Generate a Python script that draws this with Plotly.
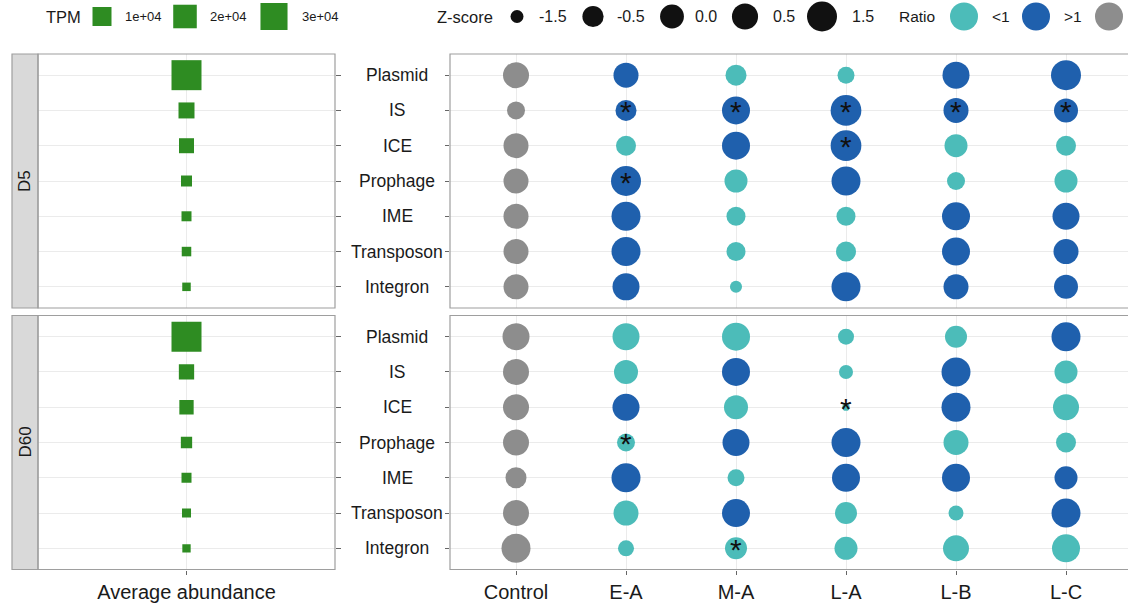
import numpy as np
import plotly.graph_objects as go

# ---------------------------------------------------------------- data
elements = ["Plasmid", "IS", "ICE", "Prophage", "IME", "Transposon", "Integron"]
groups = ["Control", "E-A", "M-A", "L-A", "L-B", "L-C"]
periods = ["D5", "D60"]
abundance_label = "Average abundance"

# average abundance (TPM) of each element type
tpm_d5 = [40000, 5300, 4050, 740, 330, 190, 20]
tpm_d60 = [40000, 4400, 3300, 900, 330, 85, 10]

# Z-scores: one row per group, columns follow `elements`
z_d5 = [
    [0.47, -0.99, 0.25, 0.25, 0.25, 0.25, 0.25],
    [0.25, -0.53, -0.70, 1.50, 1.22, 1.22, 0.71],
    [-0.53, 0.96, 0.96, -0.17, -0.85, -0.85, -1.56],
    [-1.12, 1.70, 1.70, 1.22, -0.85, -0.70, 1.22],
    [0.71, 0.25, -0.17, -0.99, 0.96, 0.96, 0.25],
    [1.50, 0.03, -0.70, -0.17, 0.71, 0.25, 0.03],
]
z_d60 = [
    [0.71, 0.47, 0.47, 0.47, -0.53, 0.47, 1.22],
    [0.71, 0.03, 0.71, -0.99, 1.22, 0.25, -1.23],
    [0.96, 0.96, 0.03, 0.71, -1.12, 0.96, -0.36],
    [-1.23, -1.42, -1.70, 1.22, 0.96, -0.36, -0.17],
    [-0.36, 1.22, 1.22, 0.25, 0.96, -1.33, 0.47],
    [1.22, -0.17, 0.47, -0.70, -0.17, 1.22, 0.96],
]

# abundance ratio relative to Control
ratio_d5 = [
    ["=1"] * 7,
    [">1", ">1", "<1", ">1", ">1", ">1", ">1"],
    ["<1", ">1", ">1", "<1", "<1", "<1", "<1"],
    ["<1", ">1", ">1", ">1", "<1", "<1", ">1"],
    [">1", ">1", "<1", "<1", ">1", ">1", ">1"],
    [">1", ">1", "<1", "<1", ">1", ">1", ">1"],
]
ratio_d60 = [
    ["=1"] * 7,
    ["<1", "<1", ">1", "<1", ">1", "<1", "<1"],
    ["<1", ">1", "<1", ">1", "<1", ">1", "<1"],
    ["<1", "<1", "<1", ">1", ">1", "<1", "<1"],
    ["<1", ">1", ">1", "<1", ">1", "<1", "<1"],
    [">1", "<1", "<1", "<1", ">1", ">1", "<1"],
]

# significance flags (1 = marked with an asterisk)
sig_d5 = [
    [0, 0, 0, 0, 0, 0, 0],
    [0, 1, 0, 1, 0, 0, 0],
    [0, 1, 0, 0, 0, 0, 0],
    [0, 1, 1, 0, 0, 0, 0],
    [0, 1, 0, 0, 0, 0, 0],
    [0, 1, 0, 0, 0, 0, 0],
]
sig_d60 = [
    [0, 0, 0, 0, 0, 0, 0],
    [0, 0, 0, 1, 0, 0, 0],
    [0, 0, 0, 0, 0, 0, 1],
    [0, 0, 1, 0, 0, 0, 0],
    [0, 0, 0, 0, 0, 0, 0],
    [0, 0, 0, 0, 0, 0, 0],
]

tpm_legend = [1e4, 2e4, 3e4]
tpm_legend_text = ["1e+04", "2e+04", "3e+04"]
z_legend = [-1.5, -0.5, 0.0, 0.5, 1.5]
z_legend_text = ["-1.5", "-0.5", "0.0", "0.5", "1.5"]
ratio_levels = ["<1", ">1", "=1"]
ratio_legend_text = ["<1", ">1", ""]

# ---------------------------------------------------------------- style
ratio_colors = {"<1": "#4CBCB9", ">1": "#1F60AD", "=1": "#8D8D8D"}
green = "#2E8C22"
text_col = "#1A1A1A"
border_col = "#9E9E9E"
grid_col = "#EBEBEB"
FONT = "Liberation Sans, Arial, Helvetica, sans-serif"

W, H = 1128, 604


def fx(px):
    return px / W


def fy(py):
    return 1 - py / H


def dot_px(z):
    z = np.clip(np.asarray(z, dtype=float), -1.7, 1.7)
    return 7.3 + 23.4 * np.sqrt((z + 1.7) / 3.4)


def square_px(tpm):
    return 8 + 0.11 * np.sqrt(np.asarray(tpm, dtype=float))


# panel geometry (pixels)
left_x = (38, 335)
right_x0 = 450
col_w = 110.0
rows = {"D5": (54, 308), "D60": (315.5, 569.5)}
strip_x = (12, 38)
label_cx = 397

fig = go.Figure()

panels = [
    ("D5", "x", "y", "x2", "y2", tpm_d5, z_d5, ratio_d5, sig_d5),
    ("D60", "x3", "y3", "x4", "y4", tpm_d60, z_d60, ratio_d60, sig_d60),
]

annotations = []
shapes = []

for name, xl, yl, xr, yr, tpm, zs, ratios, sigs in panels:
    # abundance squares
    fig.add_trace(go.Scatter(
        x=[abundance_label] * len(elements), y=elements, xaxis=xl, yaxis=yl,
        mode="markers",
        marker=dict(symbol="square", size=square_px(tpm), color=green,
                    opacity=1, line=dict(width=0)),
        showlegend=False, hoverinfo="skip",
    ))
    # Z-score / ratio dots
    xs, ys, sz, cs = [], [], [], []
    for gi, g in enumerate(groups):
        for ei, e in enumerate(elements):
            xs.append(g)
            ys.append(e)
            sz.append(float(dot_px(zs[gi][ei])))
            cs.append(ratio_colors[ratios[gi][ei]])
    fig.add_trace(go.Scatter(
        x=xs, y=ys, xaxis=xr, yaxis=yr, mode="markers",
        marker=dict(size=sz, color=cs, opacity=1, line=dict(width=0)),
        showlegend=False, hoverinfo="skip",
    ))
    # asterisks
    for gi, g in enumerate(groups):
        for ei, e in enumerate(elements):
            if sigs[gi][ei]:
                annotations.append(dict(
                    x=g, y=e, xref=xr, yref=yr, text="*", showarrow=False,
                    font=dict(family=FONT, size=30, color="#111111"),
                    xanchor="center", yanchor="middle", yshift=-1,
                ))
    # element labels between the two panels
    for e in elements:
        annotations.append(dict(
            x=fx(label_cx), y=e, xref="paper", yref=yr, text=e,
            showarrow=False, xanchor="center", yanchor="middle",
            font=dict(family=FONT, size=17.5, color=text_col),
        ))
    top, bot = rows[name]
    # facet strip
    shapes.append(dict(type="rect", xref="paper", yref="paper",
                       x0=fx(strip_x[0]), x1=fx(strip_x[1]), y0=fy(bot), y1=fy(top),
                       fillcolor="#D9D9D9", line=dict(color=border_col, width=1.2),
                       layer="above"))
    annotations.append(dict(
        x=fx((strip_x[0] + strip_x[1]) / 2), y=fy((top + bot) / 2),
        xref="paper", yref="paper", text=name, textangle=-90, showarrow=False,
        xanchor="center", yanchor="middle",
        font=dict(family=FONT, size=17, color=text_col),
    ))
    # panel borders
    shapes.append(dict(type="rect", xref="paper", yref="paper",
                       x0=fx(left_x[0]), x1=fx(left_x[1]), y0=fy(bot), y1=fy(top),
                       line=dict(color=border_col, width=1.2), layer="above"))
    shapes.append(dict(type="rect", xref="paper", yref="paper",
                       x0=fx(right_x0), x1=fx(W + 6), y0=fy(bot), y1=fy(top),
                       line=dict(color=border_col, width=1.2), layer="above"))

# ---------------------------------------------------------------- axes
axis_common = dict(showgrid=True, gridcolor=grid_col, gridwidth=1.1, zeroline=False,
                   showline=False, type="category", fixedrange=True,
                   tickfont=dict(family=FONT, size=20, color=text_col),
                   tickcolor="#666666", tickwidth=1)
y_range = [-0.6, len(elements) - 0.4]
right_range = [-0.6, -0.6 + (W - right_x0) / col_w]

layout_axes = {}
for name, xl, yl, xr, yr in [("D5", "x", "y", "x2", "y2"), ("D60", "x3", "y3", "x4", "y4")]:
    top, bot = rows[name]
    bottom_row = name == "D60"
    xa = "xaxis" + xl[1:]
    ya = "yaxis" + yl[1:]
    xb = "xaxis" + xr[1:]
    yb = "yaxis" + yr[1:]
    layout_axes[xa] = dict(axis_common, domain=[fx(left_x[0]), fx(left_x[1])],
                           anchor=yl, categoryorder="array",
                           categoryarray=[abundance_label], range=[-1, 1],
                           showticklabels=bottom_row,
                           ticks="outside" if bottom_row else "", ticklen=4)
    layout_axes[ya] = dict(axis_common, domain=[fy(bot), fy(top)], anchor=xl,
                           categoryorder="array", categoryarray=elements[::-1],
                           range=y_range, side="right", ticks="outside",
                           ticklen=5, showticklabels=False)
    layout_axes[xb] = dict(axis_common, domain=[fx(right_x0), 1], anchor=yr,
                           categoryorder="array", categoryarray=groups,
                           range=right_range, showticklabels=bottom_row,
                           ticks="outside" if bottom_row else "", ticklen=4)
    layout_axes[yb] = dict(axis_common, domain=[fy(bot), fy(top)], anchor=xr,
                           categoryorder="array", categoryarray=elements[::-1],
                           range=y_range, side="left", ticks="outside",
                           ticklen=4, showticklabels=False)

# legend strip on its own pixel-scaled axes
layout_axes["xaxis5"] = dict(domain=[0, 1], range=[0, W], visible=False,
                             anchor="y5", fixedrange=True)
layout_axes["yaxis5"] = dict(domain=[fy(36), 1], range=[36, 0], visible=False,
                             anchor="x5", fixedrange=True)

leg_y = 16.5
tpm_key_x = [102, 185, 274]
tpm_text_x = [123, 208, 300]
z_key_x = [517, 593, 672, 745, 822]
z_text_x = [537, 615, 693, 771, 850]
ratio_key_x = [964, 1036, 1109]
ratio_text_x = [990, 1062, 1135]

fig.add_trace(go.Scatter(
    x=tpm_key_x, y=[leg_y] * 3, xaxis="x5", yaxis="y5", mode="markers",
    marker=dict(symbol="square", size=square_px(tpm_legend), color=green,
                opacity=1, line=dict(width=0)),
    showlegend=False, hoverinfo="skip", cliponaxis=False,
))
fig.add_trace(go.Scatter(
    x=z_key_x, y=[leg_y] * 5, xaxis="x5", yaxis="y5", mode="markers",
    marker=dict(size=dot_px(z_legend), color="#111111", opacity=1,
                line=dict(width=0)),
    showlegend=False, hoverinfo="skip", cliponaxis=False,
))
fig.add_trace(go.Scatter(
    x=ratio_key_x, y=[leg_y] * 3, xaxis="x5", yaxis="y5", mode="markers",
    marker=dict(size=28, color=[ratio_colors[r] for r in ratio_levels],
                opacity=1, line=dict(width=0)),
    showlegend=False, hoverinfo="skip", cliponaxis=False,
))


def leg_text(x, text, size):
    annotations.append(dict(x=x, y=leg_y, xref="x5", yref="y5", text=text,
                            showarrow=False, xanchor="left", yanchor="middle",
                            font=dict(family=FONT, size=size, color=text_col)))


leg_text(44, "TPM", 16.5)
for x, t in zip(tpm_text_x, tpm_legend_text):
    leg_text(x, t, 13)
leg_text(435, "Z-score", 16.5)
for x, t in zip(z_text_x, z_legend_text):
    leg_text(x, t, 16)
leg_text(897, "Ratio", 15.5)
for x, t in zip(ratio_text_x, ratio_legend_text):
    if t:
        leg_text(x, t, 15.5)

fig.update_layout(
    width=W, height=H, margin=dict(l=0, r=0, t=0, b=0),
    paper_bgcolor="white", plot_bgcolor="white",
    showlegend=False, annotations=annotations, shapes=shapes,
    font=dict(family=FONT, color=text_col),
    **layout_axes,
)

fig.write_html("out.html", config={"displayModeBar": False})
